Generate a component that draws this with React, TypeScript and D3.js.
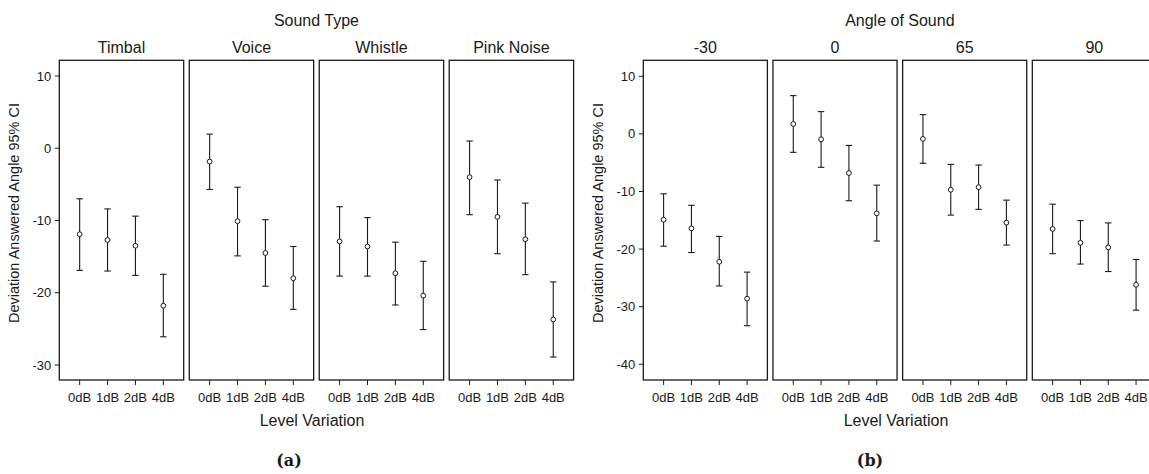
import React from "react";
import * as d3 from "d3";

const levels = ["0dB", "1dB", "2dB", "4dB"];

const soundTypes = ["Timbal", "Voice", "Whistle", "Pink Noise"];
const soundMean = [
  [-11.9, -12.7, -13.5, -21.8],
  [-1.85, -10.1, -14.5, -18.0],
  [-12.9, -13.6, -17.3, -20.4],
  [-4.0, -9.5, -12.6, -23.7],
];
const soundLow = [
  [-16.9, -17.0, -17.6, -26.1],
  [-5.7, -14.9, -19.1, -22.3],
  [-17.7, -17.7, -21.7, -25.1],
  [-9.2, -14.6, -17.5, -28.9],
];
const soundHigh = [
  [-7.0, -8.4, -9.4, -17.45],
  [1.95, -5.4, -9.9, -13.6],
  [-8.1, -9.6, -13.0, -15.65],
  [1.0, -4.4, -7.6, -18.5],
];
const soundTicks = [10, 0, -10, -20, -30];

const angles = ["-30", "0", "65", "90"];
const angleMean = [
  [-14.9, -16.4, -22.2, -28.6],
  [1.74, -0.93, -6.8, -13.8],
  [-0.87, -9.7, -9.25, -15.4],
  [-16.5, -18.9, -19.7, -26.2],
];
const angleLow = [
  [-19.5, -20.6, -26.4, -33.3],
  [-3.2, -5.8, -11.6, -18.6],
  [-5.1, -14.1, -13.1, -19.3],
  [-20.8, -22.6, -23.9, -30.6],
];
const angleHigh = [
  [-10.4, -12.4, -17.8, -24.0],
  [6.65, 3.87, -2.0, -8.9],
  [3.35, -5.3, -5.4, -11.5],
  [-12.2, -15.05, -15.45, -21.8],
];
const angleTicks = [10, 0, -10, -20, -30, -40];

const FONT = "'Liberation Sans', Arial, Helvetica, sans-serif";
const INK = "#1a1a1a";

type FacetProps = {
  title: string;
  panels: string[];
  mean: number[][];
  low: number[][];
  high: number[][];
  ticks: number[];
  yDomain: [number, number];
  left: number;
  right: number;
  labelX: number;
  tagX: number;
  tag: string;
  axisLabelX: number;
};

function Facet(p: FacetProps) {
  const top = 60.3;
  const bottom = 380;
  const panelScale = d3
    .scaleBand<string>()
    .domain(p.panels)
    .range([p.left, p.right])
    .paddingInner(0.043)
    .paddingOuter(0);
  const y = d3.scaleLinear().domain(p.yDomain).range([bottom, top]);
  const bw = panelScale.bandwidth();
  const midX = (p.left + p.right) / 2;
  return (
    <g fontFamily={FONT} fill={INK}>
      <text x={midX} y={26} textAnchor="middle" fontSize={16}>
        {p.title}
      </text>
      {p.ticks.map((t) => (
        <g key={t}>
          <line x1={p.left - 4.5} x2={p.left} y1={y(t)} y2={y(t)} stroke={INK} strokeWidth={1} />
          <text x={p.left - 8} y={y(t)} dy="0.35em" textAnchor="end" fontSize={13}>
            {t}
          </text>
        </g>
      ))}
      <text
        transform={`translate(${p.axisLabelX},${213}) rotate(-90)`}
        textAnchor="middle"
        fontSize={14.5}
      >
        Deviation Answered Angle 95% CI
      </text>
      {p.panels.map((name, i) => {
        const x0 = panelScale(name) as number;
        const x = d3.scalePoint<string>().domain(levels).range([x0, x0 + bw]).padding(0.73);
        return (
          <g key={name}>
            <text x={x0 + bw / 2} y={53} textAnchor="middle" fontSize={16}>
              {name}
            </text>
            <rect x={x0} y={top} width={bw} height={bottom - top} fill="none" stroke={INK} strokeWidth={1.3} />
            {levels.map((lv, j) => {
              const cx = x(lv) as number;
              return (
                <g key={lv}>
                  <line x1={cx} x2={cx} y1={bottom} y2={bottom + 5} stroke={INK} strokeWidth={1} />
                  <text x={cx} y={401.5} textAnchor="middle" fontSize={13}>
                    {lv}
                  </text>
                  <line x1={cx} x2={cx} y1={y(p.high[i][j])} y2={y(p.low[i][j])} stroke={INK} strokeWidth={1.1} />
                  <line x1={cx - 3.2} x2={cx + 3.2} y1={y(p.high[i][j])} y2={y(p.high[i][j])} stroke={INK} strokeWidth={1.1} />
                  <line x1={cx - 3.2} x2={cx + 3.2} y1={y(p.low[i][j])} y2={y(p.low[i][j])} stroke={INK} strokeWidth={1.1} />
                  <circle cx={cx} cy={y(p.mean[i][j])} r={2.4} fill="white" stroke={INK} strokeWidth={1} />
                </g>
              );
            })}
          </g>
        );
      })}
      <text x={p.labelX} y={425.5} textAnchor="middle" fontSize={16}>
        Level Variation
      </text>
      <text
        x={p.tagX}
        y={466}
        textAnchor="middle"
        fontSize={16}
        fontWeight="bold"
        fontFamily="'DejaVu Serif', 'Liberation Serif', serif"
      >
        {p.tag}
      </text>
    </g>
  );
}

export default function App() {
  return (
    <svg
      width={1149}
      height={474}
      style={{ position: "absolute", left: 0, top: 0, background: "white" }}
    >
      <rect x={0} y={0} width={1149} height={474} fill="white" />
      <Facet
        title="Sound Type"
        panels={soundTypes}
        mean={soundMean}
        low={soundLow}
        high={soundHigh}
        ticks={soundTicks}
        yDomain={[-32.08, 12.17]}
        left={59.3}
        right={573.6}
        labelX={312}
        tagX={289}
        tag="(a)"
        axisLabelX={19}
      />
      <Facet
        title="Angle of Sound"
        panels={angles}
        mean={angleMean}
        low={angleLow}
        high={angleHigh}
        ticks={angleTicks}
        yDomain={[-42.73, 12.78]}
        left={643.3}
        right={1156.4}
        labelX={896}
        tagX={870}
        tag="(b)"
        axisLabelX={603}
      />
    </svg>
  );
}
